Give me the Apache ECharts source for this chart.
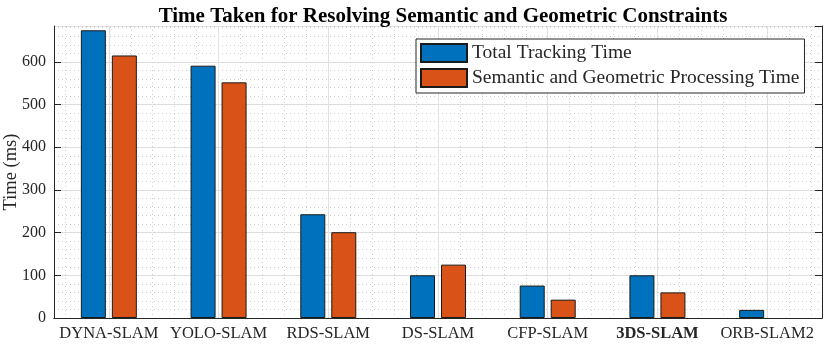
<!DOCTYPE html>
<html>
<head>
<meta charset="utf-8">
<script src="https://cdn.jsdelivr.net/npm/echarts@6/dist/echarts.min.js"></script>
<style>
  html, body { margin: 0; padding: 0; background: #fff; }
  #chart { width: 830px; height: 349px; }
</style>
</head>
<body>
<div id="chart"></div>
<script>
// 数据
const categories = ['DYNA-SLAM', 'YOLO-SLAM', 'RDS-SLAM', 'DS-SLAM', 'CFP-SLAM', '3DS-SLAM', 'ORB-SLAM2'];
const totalTime = [674, 591, 243, 100, 76, 100, 19];
const semGeoTime = [615, 552, 201, 125, 43, 60, null]; // ORB-SLAM2 没有这一项
const seriesNames = ['Total Tracking Time', 'Semantic and Geometric Processing Time'];
const yMax = 684;
const yMajorStep = 100;
const yMinorStep = 20;
const boldCategory = '3DS-SLAM';

const serif = '"Liberation Serif", "Times New Roman", serif';
const axisColor = '#262626';
const majorGrid = '#e1e1e1';
const minorGrid = '#d0d0d0';

// 隐藏的数值轴只用来画网格线 (类别中心 = 1..7)
const gridAxisX = (splitNumber, lineStyle) => ({
    type: 'value', position: 'bottom', min: 0.5, max: categories.length + 0.5,
    splitNumber: splitNumber,
    axisLine: { show: false }, axisTick: { show: false }, axisLabel: { show: false },
    splitLine: { show: true, lineStyle: lineStyle }
});

let chart = echarts.init(document.getElementById('chart'));
chart.setOption({
    animation: false,
    backgroundColor: '#fff',
    textStyle: { fontFamily: serif },
    title: {
        text: 'Time Taken for Resolving Semantic and Geometric Constraints',
        left: 438, textAlign: 'center', top: 1,
        textStyle: { fontFamily: serif, fontSize: 21, fontWeight: 'bold', color: '#000' }
    },
    legend: {
        orient: 'vertical',
        left: 416, top: 39,
        padding: [4, 5, 5, 4],
        icon: 'rect',
        itemWidth: 46, itemHeight: 18, itemGap: 5,
        backgroundColor: '#fff',
        borderColor: axisColor, borderWidth: 1,
        textStyle: { fontFamily: serif, fontSize: 19.5, color: axisColor, lineHeight: 18 },
        data: seriesNames
    },
    grid: { left: 54, right: 8, top: 26, bottom: 31, outerBoundsMode: 'none' },
    xAxis: [
        {
            type: 'category', position: 'bottom', data: categories,
            axisLine: { lineStyle: { color: axisColor, width: 1 } },
            axisTick: { inside: true, alignWithLabel: true, length: 8, lineStyle: { color: axisColor } },
            axisLabel: {
                interval: 0, margin: 7, fontFamily: serif, fontSize: 16.5, color: axisColor,
                formatter: v => v === boldCategory ? '{b|' + v + '}' : v,
                rich: { b: { fontFamily: serif, fontSize: 16.5, fontWeight: 'bold', color: axisColor } }
            },
            splitLine: { show: false }
        },
        {
            type: 'category', position: 'top', data: categories,
            axisLine: { lineStyle: { color: axisColor, width: 1 } },
            axisTick: { inside: true, alignWithLabel: true, interval: 0, length: 8, lineStyle: { color: axisColor } },
            axisLabel: { show: false },
            splitLine: { show: false }
        },
        gridAxisX(35, { color: minorGrid, width: 1, type: [1, 3] }),
        gridAxisX(7, { color: majorGrid, width: 1, type: 'solid' })
    ],
    yAxis: [
        {
            type: 'value', position: 'left', min: 0, max: yMax, interval: yMajorStep,
            name: 'Time (ms)', nameLocation: 'middle', nameGap: 33, nameMoveOverlap: false,
            nameTextStyle: { fontFamily: serif, fontSize: 18.5, color: axisColor },
            axisLine: { show: true, lineStyle: { color: axisColor, width: 1 } },
            axisTick: { show: true, inside: true, length: 7, lineStyle: { color: axisColor } },
            axisLabel: {
                margin: 8, showMaxLabel: false,
                textStyle: { fontFamily: serif, fontSize: 16, color: axisColor }
            },
            splitLine: { show: true, lineStyle: { color: majorGrid, width: 1 } }
        },
        {
            // 次网格线 (每20)
            type: 'value', position: 'left', min: 0, max: yMax, interval: yMinorStep,
            axisLine: { show: false }, axisTick: { show: false }, axisLabel: { show: false },
            splitLine: { show: true, lineStyle: { color: minorGrid, width: 1, type: [1, 3] } }
        },
        {
            type: 'value', position: 'right', min: 0, max: yMax, interval: yMajorStep,
            axisLine: { show: true, lineStyle: { color: axisColor, width: 1 } },
            axisTick: { show: true, inside: true, length: 7, lineStyle: { color: axisColor } },
            axisLabel: { show: false },
            splitLine: { show: false }
        }
    ],
    series: [
        {
            name: seriesNames[0],
            type: 'bar', xAxisIndex: 0, yAxisIndex: 0,
            data: totalTime,
            barWidth: 25, barGap: '24%',
            itemStyle: { color: '#0072BD', borderColor: '#1a1a1a', borderWidth: 1 }
        },
        {
            name: seriesNames[1],
            type: 'bar', xAxisIndex: 0, yAxisIndex: 0,
            data: semGeoTime,
            barWidth: 25, barGap: '24%',
            itemStyle: { color: '#D95319', borderColor: '#1a1a1a', borderWidth: 1 }
        }
    ]
});
</script>
</body>
</html>
